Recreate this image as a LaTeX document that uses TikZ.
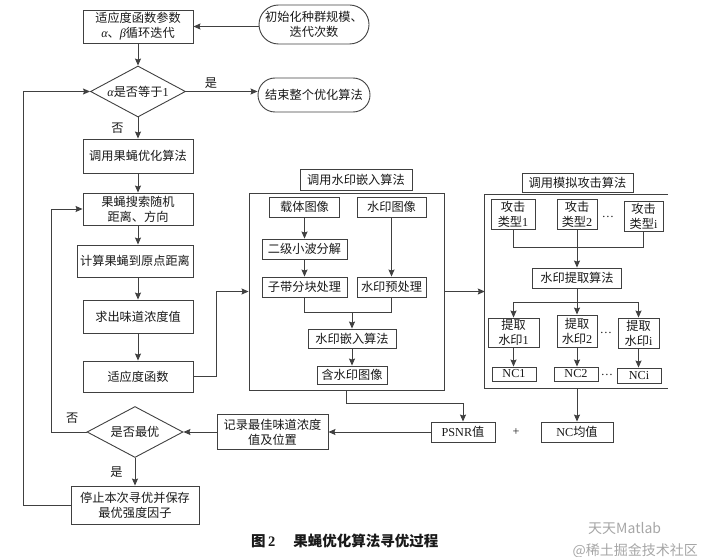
\documentclass[tikz,border=0pt]{standalone}
\usepackage{fontspec}
\setmainfont{Liberation Serif}
\newfontfamily\cjk{Noto Sans CJK SC}
\newfontfamily\latf{Liberation Serif}
\usetikzlibrary{shapes.geometric,shapes.misc,arrows.meta}
\newcommand{\lt}[1]{{\latf #1}}
\begin{document}
\begin{tikzpicture}[x=1pt,y=-1pt,
 every node/.style={font=\cjk\fontsize{12.2}{15}\selectfont, text=black!90, inner sep=0pt, align=center},
 box/.style={draw=black!75, line width=0.9pt, rectangle},
 stad/.style={draw=black!75, line width=0.9pt, rounded rectangle},
 dia/.style={draw=black!75, line width=0.9pt, diamond},
 ln/.style={draw=black!75, line width=0.9pt},
 arr/.style={ln, -{Stealth[length=7pt,width=6pt,inset=1pt]}},
]
\useasboundingbox (0,0) rectangle (703,556);

% ---------- left column ----------
\node[box,minimum width=110pt,minimum height=33pt] (p1) at (138,26.5) {适应度函数参数\\\lt{\itshape α}、\lt{\itshape β}循环迭代};
\node[stad,minimum width=110pt,minimum height=39pt] (init) at (314,24.5) {初始化种群规模、\\迭代次数};
\node[dia,minimum width=95pt,minimum height=51pt] (d1) at (138,91.5) {};
\node (d1t) at (d1) {\lt{\itshape α}是否等于\lt{1}};
\node[stad,minimum width=112pt,minimum height=34pt] (end) at (314,95) {结束整个优化算法};
\node[box,minimum width=110pt,minimum height=34pt] (b1) at (138,156) {调用果蝇优化算法};
\node[box,minimum width=110pt,minimum height=32pt] (b2) at (138,209) {果蝇搜索随机\\距离、方向};
\node[box,minimum width=116pt,minimum height=32pt] (b3) at (135,261) {计算果蝇到原点距离};
\node[box,minimum width=110pt,minimum height=33pt] (b4) at (138,316.5) {求出味道浓度值};
\node[box,minimum width=110pt,minimum height=31pt] (b5) at (138,376.5) {适应度函数};
\node[dia,minimum width=96pt,minimum height=51pt] (d2) at (135,432) {};
\node (d2t) at (d2) {是否最优};
\node[box,minimum width=111pt,minimum height=35pt] (rec) at (272.5,432) {记录最佳味道浓度\\值及位置};
\node[box,minimum width=128pt,minimum height=38pt] (stop) at (135,505) {停止本次寻优并保存\\最优强度因子};

% ---------- watermark embedding ----------
\node[box,minimum width=112pt,minimum height=21pt] (wlab) at (356,179.5) {调用水印嵌入算法};
\node[box,minimum width=195pt,minimum height=197pt] (wbig) at (346.5,291.5) {};
\node[box,minimum width=70pt,minimum height=20pt] (wcar) at (304.5,207) {载体图像};
\node[box,minimum width=69pt,minimum height=20pt] (wimg) at (391.5,207) {水印图像};
\node[box,minimum width=85pt,minimum height=20pt] (wdwt) at (304.5,249) {二级小波分解};
\node[box,minimum width=85pt,minimum height=20pt] (wsub) at (304.5,287) {子带分块处理};
\node[box,minimum width=69pt,minimum height=20pt] (wpre) at (391.5,287) {水印预处理};
\node[box,minimum width=88pt,minimum height=19pt] (wemb) at (352,338.5) {水印嵌入算法};
\node[box,minimum width=70pt,minimum height=18pt] (wout) at (352,375) {含水印图像};

% ---------- attack simulation ----------
\node[box,minimum width=111pt,minimum height=19pt] (alab) at (577.5,182.5) {调用模拟攻击算法};
\node[minimum width=183pt,minimum height=193pt] (abig) at (576.5,291.5) {};
\draw[ln] (abig.north east) -- (abig.north west) -- (abig.south west) -- (abig.south east);
\node[box,minimum width=44pt,minimum height=30pt] (t1) at (513,214) {攻击\\类型\lt{1}};
\node[box,minimum width=40pt,minimum height=30pt] (t2) at (577,214) {攻击\\类型\lt{2}};
\node[box,minimum width=39pt,minimum height=30pt] (ti) at (643.5,216) {攻击\\类型\lt{i}};
\node (dots1) at (608,217) {\lt{…}};
\node[box,minimum width=89pt,minimum height=20pt] (ext) at (577,278) {水印提取算法};
\node[box,minimum width=51pt,minimum height=29pt] (e1) at (513.5,332.5) {提取\\水印\lt{1}};
\node[box,minimum width=40pt,minimum height=32pt] (e2) at (577,331) {提取\\水印\lt{2}};
\node[box,minimum width=41pt,minimum height=30pt] (ei) at (638.5,333) {提取\\水印\lt{i}};
\node (dots2) at (606,333) {\lt{…}};
\node[box,minimum width=44pt,minimum height=14pt] (n1) at (514,374) {\lt{NC1}};
\node[box,minimum width=44pt,minimum height=14pt] (n2) at (576,374) {\lt{NC2}};
\node (dots3) at (607,375) {\lt{…}};
\node[box,minimum width=44pt,minimum height=15pt] (ni) at (639,375.5) {\lt{NCi}};

\node[box,minimum width=64pt,minimum height=20pt] (psnr) at (463,432) {\lt{PSNR}值};
\node (plus) at (516,432) {\lt{+}};
\node[box,minimum width=72pt,minimum height=20pt] (ncm) at (577,432) {\lt{NC}均值};

% ---------- helper coordinates ----------
\coordinate (k1) at (216,0);
\coordinate (k2) at (0,403);
\coordinate (k3) at (51,0);
\coordinate (k4) at (23,0);
\coordinate (k5) at (0,312);
\coordinate (k6) at (0,247);
\coordinate (k7) at (0,302);

% ---------- connectors: left column ----------
\draw[arr] (init.west |- p1.east) -- (p1.east);
\draw[arr] (p1.south) -- (d1.north);
\draw[arr] (d1.east) -- (end.west |- d1.east) node[pos=0.35, above=3pt] {是};
\draw[arr] (d1.south) -- (b1.north) node[midway, left=14pt] {否};
\draw[arr] (b1.south) -- (b2.north);
\draw[arr] (b2.south) -- (b2.south |- b3.north);
\draw[arr] (b4.north |- b3.south) -- (b4.north);
\draw[arr] (b4.south) -- (b5.north);
\draw[arr] (b5.east) -- (b5.east -| k1) -- (k1 |- wbig.west) -- (wbig.west);
\draw[arr] (wbig.east) -- (abig.west);
\draw[arr] (wbig.south) -- (wbig.south |- k2) -- (psnr.north |- k2) -- (psnr.north);
\draw[arr] (ncm.north |- abig.south) -- (ncm.north);
\draw[arr] (psnr.west) -- (rec.east);
\draw[arr] (rec.west) -- (d2.east);
\draw[arr] (d2.south) -- (stop.north) node[midway, left=12pt] {是};
\draw[arr] (d2.west) -- (d2.west -| k3) node[pos=0.4, above=8pt] {否} -- (k3 |- b2.west) -- (b2.west);
\draw[arr] (stop.west) -- (stop.west -| k4) -- (k4 |- d1.west) -- (d1.west);

% ---------- connectors: embedding ----------
\draw[arr] (wcar.south) -- (wdwt.north);
\draw[arr] (wdwt.south) -- (wsub.north);
\draw[arr] (wimg.south) -- (wpre.north);
\draw[ln] (wsub.south) -- (wsub.south |- k5) -- (wpre.south |- k5) -- (wpre.south);
\draw[arr] (wemb.north |- k5) -- (wemb.north);
\draw[arr] (wemb.south) -- (wout.north);

% ---------- connectors: attack ----------
\draw[ln] (t1.south) -- (t1.south |- k6) -- (ti.south |- k6) -- (ti.south);
\draw[ln] (t2.south) -- (t2.south |- k6);
\draw[arr] (ext.north |- k6) -- (ext.north);
\draw[ln] (ext.south) -- (ext.south |- k7);
\draw[ln] (e1.north |- k7) -- (ei.north |- k7);
\draw[arr] (e1.north |- k7) -- (e1.north);
\draw[arr] (e2.north |- k7) -- (e2.north);
\draw[arr] (ei.north |- k7) -- (ei.north);
\draw[arr] (e1.south) -- (e1.south |- n1.north);
\draw[arr] (e2.south) -- (e2.south |- n2.north);
\draw[arr] (ei.south) -- (ei.south |- ni.north);

% ---------- caption and watermark ----------
\node[anchor=west, font=\cjk\bfseries\fontsize{14.5}{16}\selectfont] (cap) at (251,541) {图\,\lt{\bfseries 2}\hspace{18pt}果蝇优化算法寻优过程};
\node[anchor=west, font=\cjk\fontsize{14}{16}\selectfont, text=black!35] (wm1) at (588,528) {天天Matlab};
\node[anchor=east, font=\cjk\fontsize{14}{16}\selectfont, text=black!35] (wm2) at (698,551) {@稀土掘金技术社区};
\end{tikzpicture}
\end{document}
